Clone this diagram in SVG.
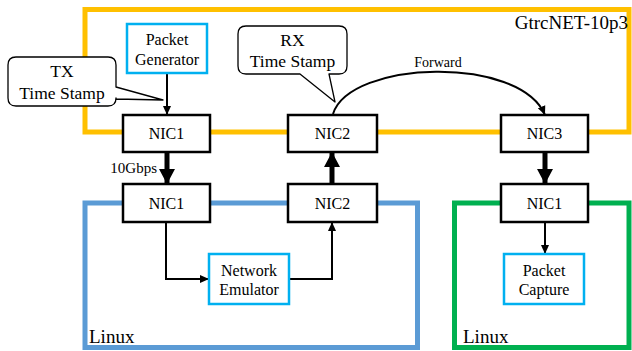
<svg xmlns="http://www.w3.org/2000/svg" width="632" height="351" viewBox="0 0 632 351" font-family="Liberation Serif, Times New Roman, serif">
  <style>
    text { fill: #000; }
    .frame { fill: none; stroke-width: 5; }
    .nic rect { fill: #fff; stroke: #000; stroke-width: 2.5; }
    .app rect { fill: #fff; stroke: #00B0F0; stroke-width: 2.5; }
    .lbl { font-size: 16px; text-anchor: middle; }
    .callout path { fill: #fff; stroke: #000; stroke-width: 1.3; stroke-linejoin: round; }
    .thin { fill: none; stroke: #000; stroke-width: 2; }
    .thick { fill: none; stroke: #000; stroke-width: 5; }
  </style>
  <defs>
    <marker id="ah" markerUnits="userSpaceOnUse" markerWidth="10" markerHeight="10" refX="9" refY="5" orient="auto">
      <path d="M0,1 L9,5 L0,9 z" fill="#000"/>
    </marker>
    <marker id="ahBig" markerUnits="userSpaceOnUse" markerWidth="16" markerHeight="17" refX="15" refY="8.5" orient="auto">
      <path d="M0,0.5 L15,8.5 L0,16.5 z" fill="#000"/>
    </marker>
  </defs>

  <!-- enclosures -->
  <g id="gtrcnet">
    <rect class="frame" x="85" y="9.5" width="544" height="122.5" stroke="#FFC000"/>
    <text x="628" y="29" font-size="19" text-anchor="end">GtrcNET-10p3</text>
  </g>
  <g id="linux-left">
    <rect class="frame" x="85" y="203" width="332.5" height="144.5" stroke="#5B9BD5"/>
    <text x="89" y="343" font-size="19">Linux</text>
  </g>
  <g id="linux-right">
    <rect class="frame" x="454.5" y="203" width="174.5" height="144.5" stroke="#00B050"/>
    <text x="463" y="343" font-size="19">Linux</text>
  </g>

  <!-- connectors -->
  <g id="connectors">
    <line class="thin" x1="167" y1="73" x2="167" y2="115" marker-end="url(#ah)"/>
    <line class="thick" x1="167" y1="152" x2="167" y2="184" marker-end="url(#ahBig)"/>
    <path class="thin" d="M166,222 V279 H209" marker-end="url(#ah)"/>
    <path class="thin" d="M289,279 H332 V222" marker-end="url(#ah)"/>
    <line class="thick" x1="332" y1="184" x2="332" y2="152" marker-end="url(#ahBig)"/>
    <path class="thin" d="M333,114 C350,60 520,55 545,115" marker-end="url(#ah)"/>
    <line class="thick" x1="545" y1="152" x2="545" y2="184" marker-end="url(#ahBig)"/>
    <line class="thin" x1="545" y1="222" x2="545" y2="254" marker-end="url(#ah)"/>
    <text x="438" y="67" font-size="14" text-anchor="middle">Forward</text>
    <text x="157" y="173" font-size="15" text-anchor="end">10Gbps</text>
  </g>

  <!-- NICs on the GtrcNET box -->
  <g id="g-nic1" class="nic">
    <rect x="123" y="115" width="87" height="37"/>
    <text class="lbl" x="166.5" y="139">NIC1</text>
  </g>
  <g id="g-nic2" class="nic">
    <rect x="288" y="115" width="89" height="37"/>
    <text class="lbl" x="332.5" y="139">NIC2</text>
  </g>
  <g id="g-nic3" class="nic">
    <rect x="501" y="115" width="87" height="37"/>
    <text class="lbl" x="544.5" y="139">NIC3</text>
  </g>

  <!-- NICs on the Linux hosts -->
  <g id="l-nic1" class="nic">
    <rect x="123" y="184" width="87" height="38"/>
    <text class="lbl" x="166.5" y="208.5">NIC1</text>
  </g>
  <g id="l-nic2" class="nic">
    <rect x="288" y="184" width="89" height="38"/>
    <text class="lbl" x="332.5" y="208.5">NIC2</text>
  </g>
  <g id="r-nic1" class="nic">
    <rect x="501" y="184" width="87" height="38"/>
    <text class="lbl" x="544.5" y="208.5">NIC1</text>
  </g>

  <!-- software components -->
  <g id="packet-generator" class="app">
    <rect x="127" y="24" width="80" height="49"/>
    <text class="lbl" x="167" y="45">Packet</text>
    <text class="lbl" x="167" y="65">Generator</text>
  </g>
  <g id="network-emulator" class="app">
    <rect x="209" y="254" width="80" height="50"/>
    <text class="lbl" x="249" y="276">Network</text>
    <text class="lbl" x="249" y="295">Emulator</text>
  </g>
  <g id="packet-capture" class="app">
    <rect x="504" y="254" width="80" height="50"/>
    <text class="lbl" x="544" y="276">Packet</text>
    <text class="lbl" x="544" y="295">Capture</text>
  </g>

  <!-- time stamp callouts -->
  <g id="tx-stamp" class="callout">
    <path d="M16,57 H108 Q116,57 116,65 V87 L163,100 L116,99 V98 Q116,106 108,106 H16 Q8,106 8,98 V65 Q8,57 16,57 Z"/>
    <text x="62" y="77" font-size="17.5" text-anchor="middle">TX</text>
    <text x="62" y="99" font-size="17.5" text-anchor="middle">Time Stamp</text>
  </g>
  <g id="rx-stamp" class="callout">
    <path d="M246,26 H339 Q347,26 347,34 V66 Q347,74 339,74 H329 L335,102 L300,74 H246 Q238,74 238,66 V34 Q238,26 246,26 Z"/>
    <text x="292.5" y="46" font-size="17.5" text-anchor="middle">RX</text>
    <text x="292.5" y="67" font-size="17.5" text-anchor="middle">Time Stamp</text>
  </g>
</svg>
